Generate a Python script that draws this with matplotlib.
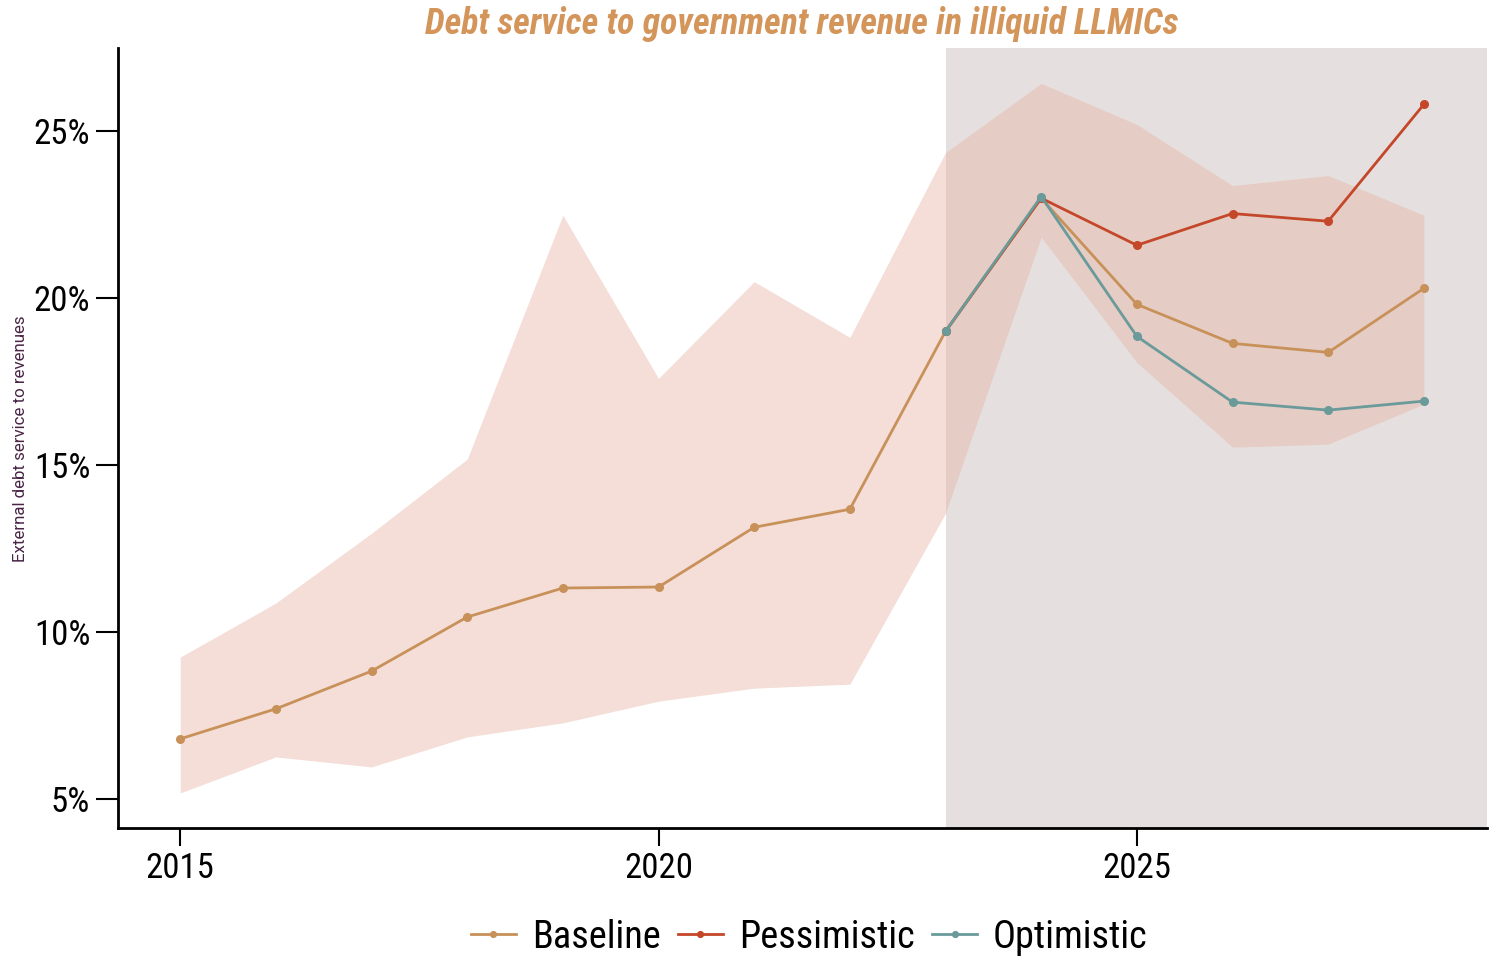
"""Debt service to government revenue in illiquid LLMICs: baseline vs. scenarios, with min-max band."""

import matplotlib

matplotlib.use("Agg")
import matplotlib.pyplot as plt  # noqa: E402

plt.rcParams["font.family"] = ["Roboto Condensed", "DejaVu Sans"]
plt.rcParams["font.stretch"] = "condensed"

YEARS = list(range(2015, 2029))
BASELINE = [6.8, 7.7, 8.83, 10.45, 11.32, 11.35, 13.14, 13.68, 19.01, 23.0, 19.82, 18.65, 18.38, 20.3]
BAND_HI = [9.25, 10.87, 12.96, 15.18, 22.49, 17.6, 20.5, 18.83, 24.37, 26.44, 25.21, 23.38, 23.68, 22.49]
BAND_LO = [5.18, 6.26, 5.96, 6.86, 7.28, 7.93, 8.32, 8.44, 13.56, 21.83, 18.08, 15.54, 15.63, 16.83]

SCEN_YEARS = list(range(2023, 2029))
PESSIMISTIC = [19.01, 23.0, 21.59, 22.54, 22.31, 25.81]
OPTIMISTIC = [19.01, 23.05, 18.86, 16.89, 16.65, 16.92]

Y_TICKS = [5, 10, 15, 20, 25]
X_TICKS = [2015, 2020, 2025]
PROJ_START = 2023

BASE_C, PESS_C, OPT_C = "#c8915a", "#c4472a", "#6a9a9a"
BAND_C, GREY_C, TITLE_C, YLAB_C = "#e7b7a8", "#e5e0df", "#d4955a", "#4a2346"


def main():
    fig = plt.figure(figsize=(14.93, 9.58), dpi=100)
    ax = fig.add_axes([118 / 1493, 1 - 828 / 958, (1487 - 118) / 1493, (828 - 48) / 958])

    ax.axvspan(PROJ_START, 2030, color=GREY_C, lw=0, zorder=0)
    ax.fill_between(YEARS, BAND_LO, BAND_HI, color=BAND_C, alpha=0.46, lw=0, zorder=1)

    kw = dict(lw=2.0, marker="o", ms=5.5, zorder=3)
    ax.plot(YEARS, BASELINE, color=BASE_C, label="Baseline", **kw)
    ax.plot(SCEN_YEARS, PESSIMISTIC, color=PESS_C, label="Pessimistic", **kw)
    ax.plot(SCEN_YEARS, OPTIMISTIC, color=OPT_C, label="Optimistic", **kw)

    ax.set_xlim(2014.35, 2028.66)
    ax.set_ylim(4.13, 27.5)
    ax.set_xticks(X_TICKS)
    ax.set_xticklabels([str(x) for x in X_TICKS], fontsize=25)
    ax.set_yticks(Y_TICKS)
    ax.set_yticklabels([f"{y}%" for y in Y_TICKS], fontsize=25)
    ax.tick_params(axis="y", length=16, width=1.5, pad=4)
    ax.tick_params(axis="x", length=13, width=1.5, pad=4)

    for s in ("top", "right"):
        ax.spines[s].set_visible(False)
    for s in ("left", "bottom"):
        ax.spines[s].set_linewidth(2)

    fig.text(21 / 1493, 1 - 439 / 958, "External debt service to revenues", rotation=90,
             ha="center", va="center", fontsize=12.2, color=YLAB_C, family="Roboto", stretch="normal")
    fig.text(802 / 1493, 1 - 24 / 958, "Debt service to government revenue in illiquid LLMICs",
             ha="center", va="center", fontsize=25.8, color=TITLE_C, weight="bold", style="italic")

    fig.legend(loc="center", bbox_to_anchor=(809 / 1493, 1 - 937 / 958), ncol=3, frameon=False,
               fontsize=27.5, handlelength=1.2, handletextpad=0.4, columnspacing=0.45, markerscale=0.75)

    fig.savefig("out.png", dpi=100, facecolor="white")
    plt.close(fig)


if __name__ == "__main__":
    main()
